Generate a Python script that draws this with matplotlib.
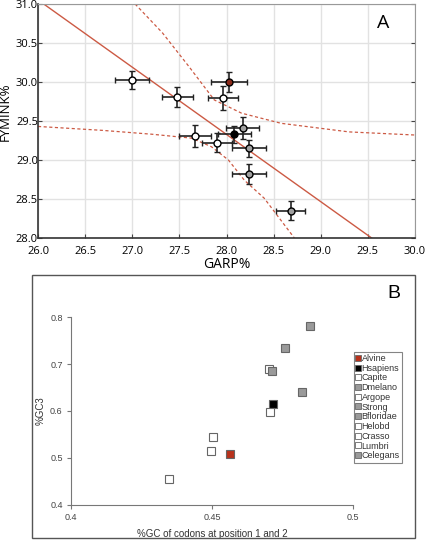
import matplotlib
matplotlib.use("Agg")
import matplotlib.pyplot as plt
from matplotlib.patches import Rectangle
from matplotlib.lines import Line2D

# ---- panel A data ----
garp = [27.00, 27.48, 28.03, 27.96, 28.17, 28.08, 27.67, 27.90, 28.24, 28.24, 28.68]
fymink = [30.02, 29.81, 30.00, 29.79, 29.41, 29.33, 29.31, 29.22, 29.15, 28.82, 28.35]
garp_err = [0.18, 0.16, 0.19, 0.16, 0.175, 0.175, 0.17, 0.155, 0.18, 0.18, 0.15]
fymink_err = [0.115, 0.13, 0.13, 0.155, 0.14, 0.11, 0.14, 0.12, 0.11, 0.13, 0.12]
a_fill = ["white", "white", "#8b2a1a", "white", "#a0a0a0", "black",
          "white", "white", "#a0a0a0", "#a0a0a0", "#a0a0a0"]

fit_x = [26.06, 29.54]
fit_y = [31.0, 28.0]
upper_x = [27.03, 27.32, 27.60, 27.87, 28.16, 28.58, 29.30, 30.0]
upper_y = [31.0, 30.63, 30.20, 29.77, 29.60, 29.47, 29.36, 29.32]
lower_x = [26.0, 26.68, 27.21, 27.63, 27.84, 28.02, 28.19, 28.40, 28.72]
lower_y = [29.43, 29.38, 29.33, 29.28, 29.17, 29.00, 28.74, 28.51, 28.0]

# ---- panel B data ----
species = ["Alvine", "Hsapiens", "Capite", "Dmelano", "Argope", "Strong",
           "Bfloridae", "Helobd", "Crasso", "Lumbri", "Celegans"]
gc12 = [0.4565, 0.4715, 0.4703, 0.4713, 0.4706, 0.4758,
        0.4848, 0.4502, 0.4495, 0.4346, 0.4820]
gc3 = [0.5085, 0.6143, 0.689, 0.6857, 0.5987, 0.7347,
       0.781, 0.5447, 0.5149, 0.456, 0.6404]
b_fill = ["#b8321c", "black", "white", "#9a9a9a", "white", "#9a9a9a",
          "#9a9a9a", "white", "white", "white", "#9a9a9a"]

red = "#cc5a44"

fig = plt.figure(figsize=(4.3, 5.43), dpi=100)

# ================= panel A =================
ax = fig.add_axes([0.0884, 0.5617, 0.8767, 0.431])
ax.set_xlim(26, 30)
ax.set_ylim(28, 31)
ax.set_xticks([26.0, 26.5, 27.0, 27.5, 28.0, 28.5, 29.0, 29.5, 30.0])
ax.set_yticks([28.0, 28.5, 29.0, 29.5, 30.0, 30.5, 31.0])
ax.xaxis.set_major_formatter(matplotlib.ticker.FormatStrFormatter("%.1f"))
ax.yaxis.set_major_formatter(matplotlib.ticker.FormatStrFormatter("%.1f"))
ax.grid(True, color="#e2e2e2", lw=1.0)
ax.set_axisbelow(True)
ax.tick_params(direction="in", length=3, labelsize=8, color="#444",
               right=True, top=False)
ax.tick_params(axis="y", pad=0)
ax.tick_params(axis="x", pad=6)
for lab in ax.get_xticklabels() + ax.get_yticklabels():
    lab.set_fontfamily("Open Sans")
for s in ["left", "bottom"]:
    ax.spines[s].set_color("#333")
    ax.spines[s].set_linewidth(1.2)
for s in ["top", "right"]:
    ax.spines[s].set_color("#999")
    ax.spines[s].set_linewidth(0.8)

ax.plot(fit_x, fit_y, color=red, lw=1.0)
ax.plot(upper_x, upper_y, color=red, lw=0.9, ls=(0, (2.5, 2)))
ax.plot(lower_x, lower_y, color=red, lw=0.9, ls=(0, (2.5, 2)))

for x, y, xe, ye, fc in zip(garp, fymink, garp_err, fymink_err, a_fill):
    ax.errorbar(x, y, xerr=xe, yerr=ye, fmt="o", ms=5, mfc=fc, mec="black",
                mew=1.0, ecolor="#222", elinewidth=1.2, capsize=2.5,
                capthick=1.0, zorder=3)

ax.set_xlabel("GARP%", fontsize=10, family="Open Sans", labelpad=0)
ax.set_ylabel("FYMINK%", fontsize=9.5, family="Open Sans")
ax.yaxis.set_label_coords(-0.07, 0.54)
ax.text(0.915, 0.92, "A", transform=ax.transAxes, fontsize=14,
        family="Open Sans", ha="center", va="center")

# ================= panel B =================
fig.patches.append(Rectangle((0.0744, 0.0092), 0.8906, 0.4844,
                             transform=fig.transFigure, fill=False,
                             edgecolor="#555", lw=1.0))

bx = fig.add_axes([0.1651, 0.07, 0.6558, 0.3462])
bx.set_xlim(0.4, 0.5)
bx.set_ylim(0.4, 0.8)
bx.set_xticks([0.4, 0.45, 0.5])
bx.set_xticklabels(["0.4", "0.45", "0.5"])
bx.set_yticks([0.4, 0.5, 0.6, 0.7, 0.8])
bx.set_yticklabels(["0.4", "0.5", "0.6", "0.7", "0.8"])
for s in ["top", "right"]:
    bx.spines[s].set_visible(False)
for s in ["left", "bottom"]:
    bx.spines[s].set_color("#777")
    bx.spines[s].set_linewidth(0.8)
bx.tick_params(length=3, color="#777", labelsize=6.5, labelcolor="#444", pad=3)
for lab in bx.get_xticklabels() + bx.get_yticklabels():
    lab.set_fontfamily("Liberation Sans")
bx.patch.set_alpha(0)

handles = []
for x, y, fc, name in zip(gc12, gc3, b_fill, species):
    bx.errorbar(x, y, xerr=0.0006, fmt="s", ms=6, mfc=fc, mec="#666",
                mew=0.8, ecolor="#666", elinewidth=0.8, capsize=1.5, zorder=3)
    handles.append(Line2D([], [], ls="none", marker="s", ms=4.2, mfc=fc,
                          mec="#666", mew=0.6, label=name))

leg = bx.legend(handles=handles, loc="upper left",
                bbox_to_anchor=(1.002, 0.815),
                prop={"family": "Liberation Sans", "size": 6.5},
                frameon=True, fancybox=False, edgecolor="#666",
                handlelength=0.55, handletextpad=0.1, borderpad=0.25,
                labelspacing=0.08, borderaxespad=0)
leg.get_frame().set_linewidth(0.8)
for t in leg.get_texts():
    t.set_color("#333")

bx.set_xlabel("%GC of codons at position 1 and 2", fontsize=7,
              family="Liberation Sans", color="#333", labelpad=5)
bx.set_ylabel("%GC3", fontsize=7, family="Liberation Sans", color="#333",
              labelpad=3)
fig.text(0.916, 0.46, "B", fontsize=14, family="Liberation Sans",
         ha="center", va="center")

fig.savefig("out.png", dpi=100)
